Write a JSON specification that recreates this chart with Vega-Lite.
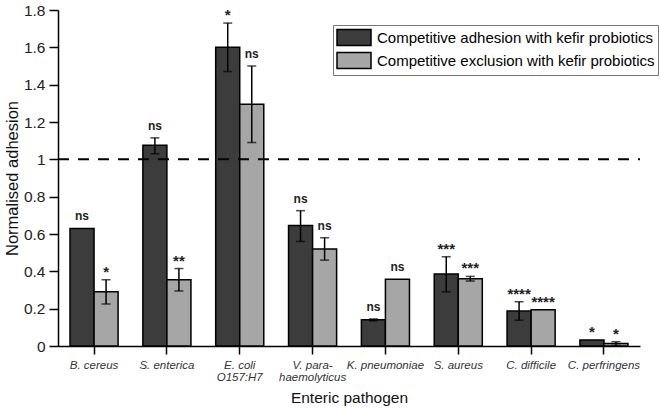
{
  "$schema": "https://vega.github.io/schema/vega-lite/v6.json",
  "width": 582,
  "height": 336,
  "autosize": {"type": "none"},
  "padding": {"left": 58, "top": 10, "right": 20, "bottom": 63},
  "config": {
    "view": {"stroke": null},
    "font": "Liberation Sans",
    "axis": {"domainColor": "#000", "tickColor": "#000", "domainWidth": 1.5, "tickWidth": 1.5, "grid": false, "labelColor": "#222", "titleColor": "#111", "titleFontWeight": "normal"}
  },
  "datasets": {
    "bars": [
      {"pathogen": "B. cereus", "series": "Competitive adhesion with kefir probiotics", "value": 0.63, "lo": null, "hi": null, "top": 0.63, "sig": "ns"},
      {"pathogen": "B. cereus", "series": "Competitive exclusion with kefir probiotics", "value": 0.29, "lo": 0.225, "hi": 0.355, "top": 0.355, "sig": "*"},
      {"pathogen": "S. enterica", "series": "Competitive adhesion with kefir probiotics", "value": 1.075, "lo": 1.03, "hi": 1.115, "top": 1.115, "sig": "ns"},
      {"pathogen": "S. enterica", "series": "Competitive exclusion with kefir probiotics", "value": 0.355, "lo": 0.295, "hi": 0.415, "top": 0.415, "sig": "**"},
      {"pathogen": "E. coli O157:H7", "series": "Competitive adhesion with kefir probiotics", "value": 1.6, "lo": 1.47, "hi": 1.73, "top": 1.73, "sig": "*"},
      {"pathogen": "E. coli O157:H7", "series": "Competitive exclusion with kefir probiotics", "value": 1.295, "lo": 1.09, "hi": 1.5, "top": 1.5, "sig": "ns"},
      {"pathogen": "V. parahaemolyticus", "series": "Competitive adhesion with kefir probiotics", "value": 0.645, "lo": 0.56, "hi": 0.725, "top": 0.725, "sig": "ns"},
      {"pathogen": "V. parahaemolyticus", "series": "Competitive exclusion with kefir probiotics", "value": 0.52, "lo": 0.46, "hi": 0.58, "top": 0.58, "sig": "ns"},
      {"pathogen": "K. pneumoniae", "series": "Competitive adhesion with kefir probiotics", "value": 0.14, "lo": 0.135, "hi": 0.145, "top": 0.145, "sig": "ns"},
      {"pathogen": "K. pneumoniae", "series": "Competitive exclusion with kefir probiotics", "value": 0.357, "lo": null, "hi": null, "top": 0.357, "sig": "ns"},
      {"pathogen": "S. aureus", "series": "Competitive adhesion with kefir probiotics", "value": 0.386, "lo": 0.29, "hi": 0.478, "top": 0.478, "sig": "***"},
      {"pathogen": "S. aureus", "series": "Competitive exclusion with kefir probiotics", "value": 0.36, "lo": 0.348, "hi": 0.373, "top": 0.373, "sig": "***"},
      {"pathogen": "C. difficile", "series": "Competitive adhesion with kefir probiotics", "value": 0.187, "lo": 0.138, "hi": 0.237, "top": 0.237, "sig": "****"},
      {"pathogen": "C. difficile", "series": "Competitive exclusion with kefir probiotics", "value": 0.194, "lo": null, "hi": null, "top": 0.194, "sig": "****"},
      {"pathogen": "C. perfringens", "series": "Competitive adhesion with kefir probiotics", "value": 0.032, "lo": null, "hi": null, "top": 0.032, "sig": "*"},
      {"pathogen": "C. perfringens", "series": "Competitive exclusion with kefir probiotics", "value": 0.014, "lo": 0.003, "hi": 0.023, "top": 0.023, "sig": "*"}
    ],
    "ref": [{"ref": 1}]
  },
  "layer": [
    {
      "data": {"name": "bars"},
      "encoding": {
        "x": {
          "field": "pathogen", "type": "nominal", "sort": null,
          "scale": {"paddingInner": 0.34, "paddingOuter": 0.165},
          "axis": {
            "title": "Enteric pathogen", "titleFontSize": 15.5, "titlePadding": 8,
            "labelAngle": 0, "labelFontSize": 11.5, "labelFontStyle": "italic", "labelPadding": 5, "tickSize": 8, "labelColor": "#333", "labelLineHeight": 12,
            "labelExpr": "datum.label == 'E. coli O157:H7' ? ['E. coli', 'O157:H7'] : datum.label == 'V. parahaemolyticus' ? ['V. para-', 'haemolyticus'] : datum.label"
          }
        },
        "xOffset": {"field": "series", "type": "nominal", "scale": {"paddingInner": 0, "paddingOuter": 0}}
      },
      "layer": [
        {
          "mark": {"type": "bar", "stroke": "#000", "strokeWidth": 1.5},
          "encoding": {
            "y": {"field": "value", "type": "quantitative",
              "scale": {"domain": [0, 1.8], "nice": false},
              "axis": {"title": "Normalised adhesion", "titleFontSize": 16.5, "titlePadding": 3, "labelFontSize": 15.5, "tickCount": 9, "format": "~g", "tickSize": 9, "labelPadding": 4}},
            "color": {"field": "series", "type": "nominal",
              "scale": {"range": ["#3c3c3c", "#a6a6a6"]},
              "legend": {
                "title": null, "orient": "none", "legendX": 275, "legendY": 15,
                "symbolType": "M-1,-0.94H3V0.94H-1Z", "symbolSize": 289,
                "symbolStrokeColor": "#000", "symbolStrokeWidth": 1.5, "symbolOpacity": 1,
                "labelFontSize": 15, "labelColor": "#000", "labelLimit": 400, "labelOffset": 22,
                "rowPadding": 0, "padding": 3, "strokeColor": "#777"
              }}
          }
        },
        {
          "transform": [{"filter": "datum.lo != null"}],
          "mark": {"type": "rule", "color": "#000", "strokeWidth": 1.5},
          "encoding": {"y": {"field": "lo", "type": "quantitative"}, "y2": {"field": "hi"}}
        },
        {
          "transform": [{"filter": "datum.lo != null"}],
          "mark": {"type": "tick", "color": "#000", "thickness": 1.5, "size": 9, "orient": "horizontal"},
          "encoding": {"y": {"field": "lo", "type": "quantitative"}}
        },
        {
          "transform": [{"filter": "datum.lo != null"}],
          "mark": {"type": "tick", "color": "#000", "thickness": 1.5, "size": 9, "orient": "horizontal"},
          "encoding": {"y": {"field": "hi", "type": "quantitative"}}
        },
        {
          "transform": [{"filter": "datum.sig == 'ns'"}],
          "mark": {"type": "text", "fontWeight": "bold", "fontSize": 12, "color": "#222", "baseline": "alphabetic", "dy": -8},
          "encoding": {"y": {"field": "top", "type": "quantitative"}, "text": {"field": "sig"}}
        },
        {
          "transform": [{"filter": "datum.sig != 'ns'"}],
          "mark": {"type": "text", "fontWeight": "bold", "fontSize": 15, "color": "#222", "baseline": "alphabetic", "dy": -3},
          "encoding": {"y": {"field": "top", "type": "quantitative"}, "text": {"field": "sig"}}
        }
      ]
    },
    {
      "data": {"name": "ref"},
      "mark": {"type": "rule", "color": "#000", "strokeWidth": 2, "strokeDash": [11, 9]},
      "encoding": {"y": {"field": "ref", "type": "quantitative"}, "x": {"value": 0}, "x2": {"value": 582}}
    }
  ]
}
